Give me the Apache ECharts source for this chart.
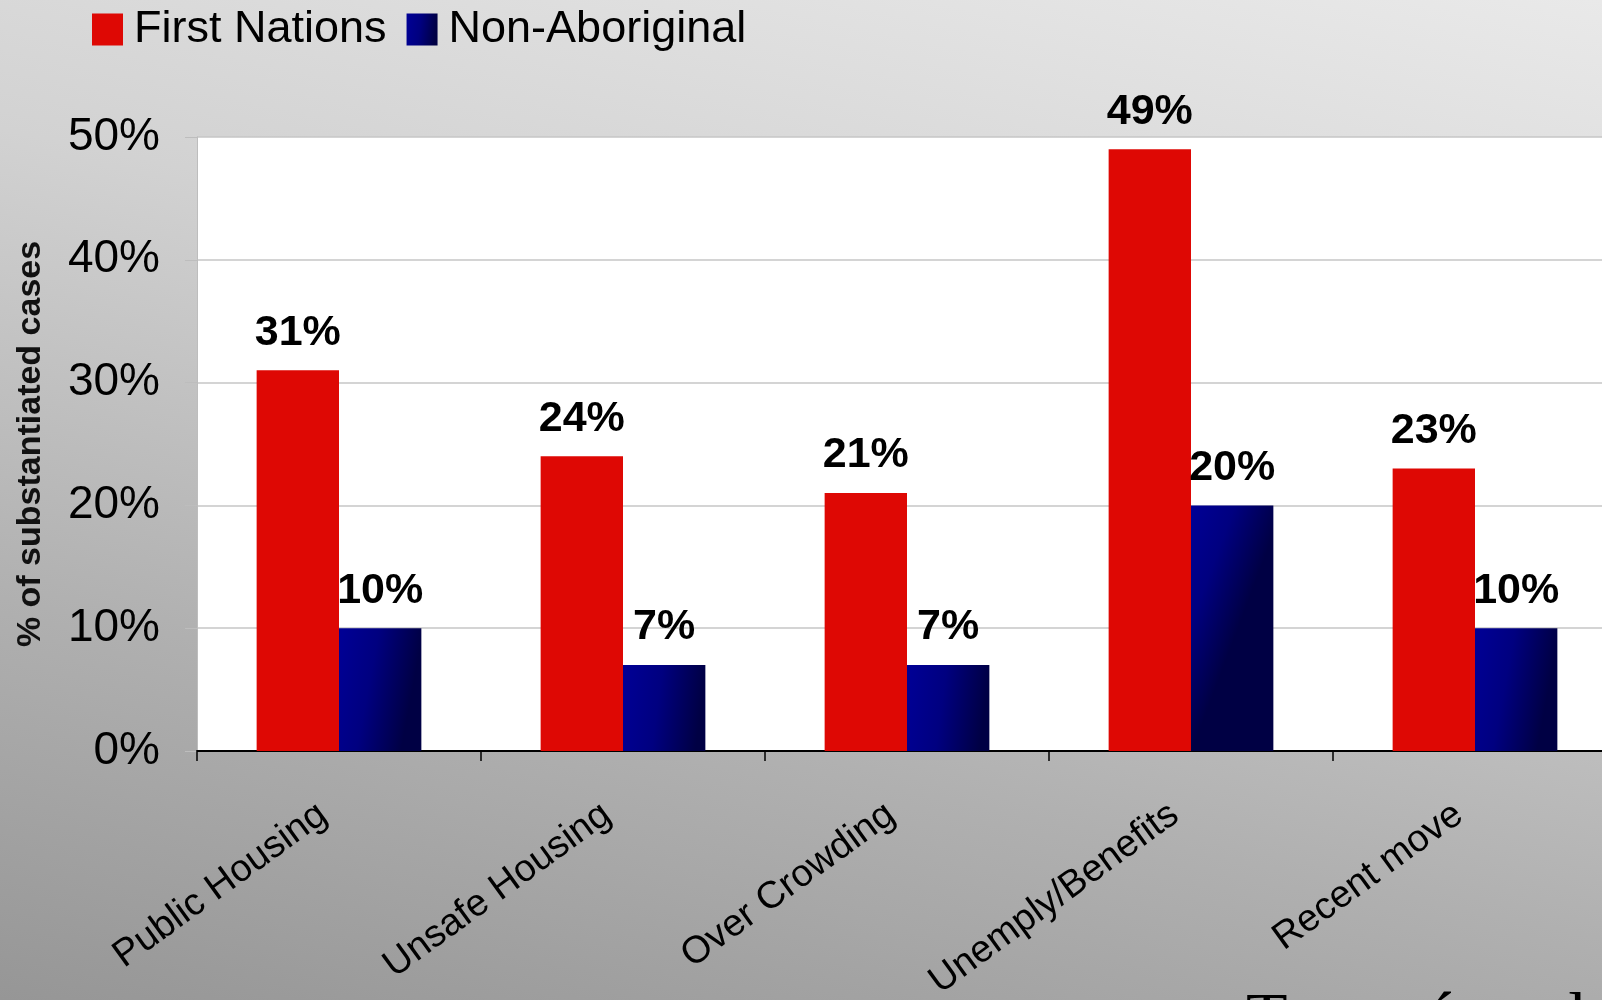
<!DOCTYPE html>
<html>
<head>
<meta charset="utf-8">
<script src="https://cdn.jsdelivr.net/npm/echarts@6/dist/echarts.min.js"></script>
<style>
  html, body { margin: 0; padding: 0; overflow: hidden; }
  #chart {
    width: 1602px; height: 1000px;
    background: linear-gradient(192deg, #e9e9e9 0%, #d2d2d2 35%, #b0b0b0 70%, #969696 100%);
  }
</style>
</head>
<body>
<div id="chart"></div>
<script>
const categories = ['Public Housing', 'Unsafe Housing', 'Over Crowding', 'Unemply/Benefits', 'Recent move'];
const firstNations = [31, 24, 21, 49, 23];
const nonAboriginal = [10, 7, 7, 20, 10];
const yTicks = [0, 10, 20, 30, 40, 50];

const chart = echarts.init(document.getElementById('chart'), null, { renderer: 'canvas' });

const redColor = '#de0804';
const blueGrad = new echarts.graphic.LinearGradient(0.05, 0, 1, 0.12, [
  { offset: 0, color: '#000094' },
  { offset: 0.45, color: '#000080' },
  { offset: 1, color: '#000044' }
]);

const labelStyle = {
  show: true,
  position: 'top',
  distance: 16,
  formatter: '{c}%',
  fontFamily: 'Liberation Sans, Arial, sans-serif',
  fontWeight: 'bold',
  fontSize: 43,
  color: '#000'
};

chart.setOption({
  backgroundColor: 'transparent',
  animation: false,
  textStyle: { fontFamily: 'Liberation Sans, Arial, sans-serif' },
  legend: {
    left: 87,
    top: 2,
    itemWidth: 31,
    itemHeight: 32,
    itemGap: 20,
    icon: 'rect',
    textStyle: { fontSize: 45, color: '#000', fontFamily: 'Liberation Sans, Arial, sans-serif', padding: [0, 0, 0, 6] },
    data: ['First Nations', 'Non-Aboriginal']
  },
  grid: {
    left: 197,
    width: 1420,
    top: 137,
    bottom: 249,
    outerBoundsMode: 'none',
    containLabel: false,
    show: true,
    backgroundColor: '#ffffff',
    borderWidth: 0
  },
  xAxis: {
    type: 'category',
    data: categories,
    axisLine: { show: true, lineStyle: { color: '#000', width: 2 } },
    axisTick: { show: true, length: 10, lineStyle: { color: '#000', width: 1.5 } },
    axisLabel: {
      rotate: 36,
      margin: 48,
      fontSize: 38,
      color: '#000',
      padding: [0, 20, 0, 0],
      fontFamily: 'Liberation Sans, Arial, sans-serif',
      interval: 0
    },
    splitLine: { show: false }
  },
  yAxis: {
    type: 'value',
    min: 0,
    max: 50,
    interval: 10,
    name: '% of substantiated cases',
    nameLocation: 'middle',
    nameGap: 149,
    nameTextStyle: { fontSize: 34, fontWeight: 'bold', color: '#111', fontFamily: 'Liberation Sans, Arial, sans-serif' },
    axisLine: { show: true, lineStyle: { color: '#bdbdbd', width: 1 } },
    axisTick: { show: true, length: 12, lineStyle: { color: '#bdbdbd', width: 1 } },
    axisLabel: {
      formatter: function (v) { return yTicks.indexOf(v) >= 0 ? v + '%' : ''; },
      fontSize: 46,
      color: '#000',
      margin: 37,
      fontFamily: 'Liberation Sans, Arial, sans-serif'
    },
    splitLine: { show: true, lineStyle: { color: '#c6c6c6', width: 1.5 } }
  },
  series: [
    {
      name: 'First Nations',
      type: 'bar',
      data: firstNations,
      barGap: '0%',
      barCategoryGap: '42%',
      itemStyle: { color: redColor },
      label: labelStyle
    },
    {
      name: 'Non-Aboriginal',
      type: 'bar',
      data: nonAboriginal,
      barGap: '0%',
      barCategoryGap: '42%',
      itemStyle: { color: blueGrad },
      label: labelStyle
    }
  ],
  graphic: [
    {
      type: 'text',
      left: 1246,
      top: 987,
      style: {
        text: 'Trocmé et al',
        font: '68px "Liberation Serif", "Times New Roman", serif',
        fill: '#000'
      }
    }
  ]
});
</script>
</body>
</html>
